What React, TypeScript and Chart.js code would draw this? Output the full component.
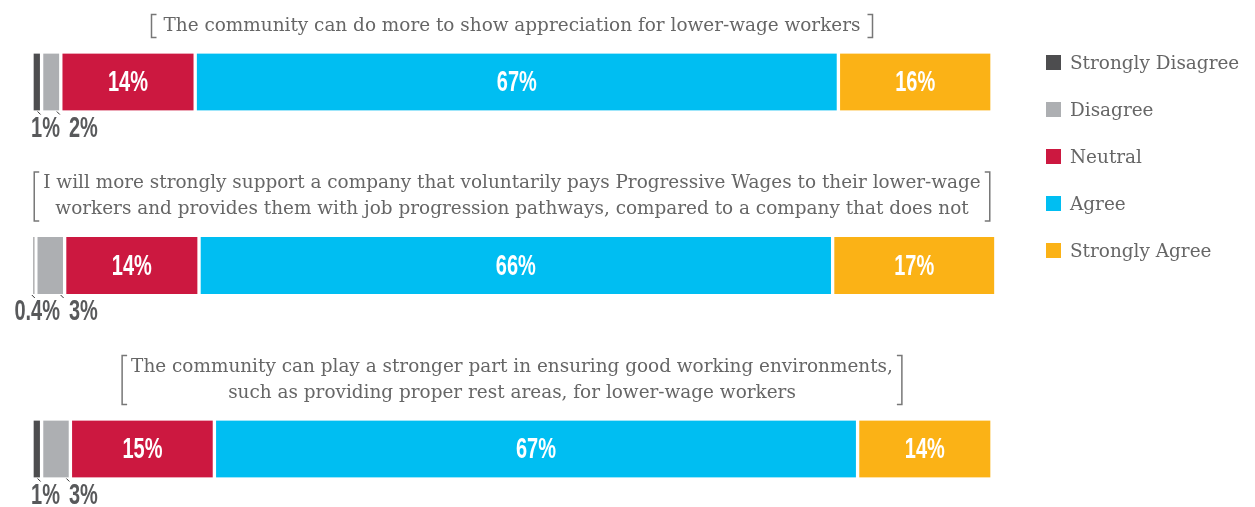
import React, { useEffect, useRef } from "react";
import { Chart, registerables } from "chart.js";

Chart.register(...registerables);

// ---- data ----
const statements: string[][] = [
  ["The community can do more to show appreciation for lower-wage workers"],
  [
    "I will more strongly support a company that voluntarily pays Progressive Wages to their lower-wage",
    "workers and provides them with job progression pathways, compared to a company that does not",
  ],
  [
    "The community can play a stronger part in ensuring good working environments,",
    "such as providing proper rest areas, for lower-wage workers",
  ],
];
const seriesNames = ["Strongly Disagree", "Disagree", "Neutral", "Agree", "Strongly Agree"];
const stronglyDisagree = [1, 0.4, 1];
const disagree = [2, 3, 3];
const neutral = [14, 14, 15];
const agree = [67, 66, 67];
const stronglyAgree = [16, 17, 14];
const seriesColors = ["#4d4d4f", "#adafb2", "#cc1840", "#00bef2", "#fbb216"];

// ---- style constants ----
const W = 1255;
const H = 507;
const TITLE_FONT = '18px "DejaVu Serif", serif';
const TITLE_COLOR = "#666666";
const TITLE1_TARGET_WIDTH = 697;
const LABEL_FONT = 'bold 30px "Liberation Sans Narrow", "Liberation Sans", sans-serif';
const LABEL_TARGET_WIDTH = 40; // width of "14%"

function fmt(v: number) {
  return v + "%";
}

function drawScaled(ctx: CanvasRenderingContext2D, text: string, x: number, y: number, align: CanvasTextAlign, sx: number) {
  ctx.save();
  ctx.translate(x, y);
  ctx.scale(sx, 1);
  ctx.textAlign = align;
  ctx.fillText(text, 0, 0);
  ctx.restore();
}

const decorPlugin = {
  id: "decor",
  afterDatasetsDraw(chart: any) {
    const ctx: CanvasRenderingContext2D = chart.ctx;
    const area = chart.chartArea;
    ctx.save();

    ctx.font = TITLE_FONT;
    const tsx = TITLE1_TARGET_WIDTH / ctx.measureText(statements[0][0]).width;
    ctx.font = LABEL_FONT;
    const lsx = LABEL_TARGET_WIDTH / ctx.measureText("14%").width;

    const cx = (area.left + area.right) / 2;
    const meta0 = chart.getDatasetMeta(0);

    // titles with brackets
    statements.forEach((lines, j) => {
      const el = meta0.data[j];
      const barTop = el.y - el.height / 2;
      const lineH = 26;
      const lastBase = barTop - 23;
      const firstBase = lastBase - (lines.length - 1) * lineH;
      ctx.font = TITLE_FONT;
      ctx.fillStyle = TITLE_COLOR;
      ctx.textBaseline = "alphabetic";
      let maxW = 0;
      lines.forEach((ln, k) => {
        const w = ctx.measureText(ln).width * tsx;
        if (w > maxW) maxW = w;
        drawScaled(ctx, ln, cx, firstBase + k * lineH, "center", tsx);
      });
      const pad = lines.length === 1 ? 12 : 9;
      const bl = cx - maxW / 2 - pad;
      const br = cx + maxW / 2 + pad;
      const bt = firstBase - 16;
      const bb = lastBase + 7;
      ctx.strokeStyle = "#777777";
      ctx.lineWidth = 1.5;
      ctx.beginPath();
      ctx.moveTo(bl + 5, bt);
      ctx.lineTo(bl, bt);
      ctx.lineTo(bl, bb);
      ctx.lineTo(bl + 5, bb);
      ctx.moveTo(br - 5, bt);
      ctx.lineTo(br, bt);
      ctx.lineTo(br, bb);
      ctx.lineTo(br - 5, bb);
      ctx.stroke();
    });

    // value labels
    ctx.font = LABEL_FONT;
    chart.data.datasets.forEach((ds: any, i: number) => {
      const meta = chart.getDatasetMeta(i);
      meta.data.forEach((el: any, j: number) => {
        const v = ds.data[j];
        const bottom = el.y + el.height / 2;
        if (v >= 5) {
          ctx.fillStyle = "#ffffff";
          ctx.textBaseline = "middle";
          drawScaled(ctx, fmt(v), (el.x + el.base) / 2, el.y + 1, "center", lsx);
        } else {
          ctx.strokeStyle = "#333333";
          ctx.lineWidth = 1;
          ctx.beginPath();
          ctx.moveTo(el.x - 4, bottom + 1);
          ctx.lineTo(el.x - 1, bottom + 4);
          ctx.stroke();
          ctx.fillStyle = "#58595b";
          ctx.textBaseline = "middle";
          if (i === 0) {
            drawScaled(ctx, fmt(v), area.left + 28, bottom + 18, "right", lsx);
          } else {
            drawScaled(ctx, fmt(v), area.left + 37, bottom + 18, "left", lsx);
          }
        }
      });
    });

    // legend
    ctx.font = TITLE_FONT;
    ctx.textBaseline = "middle";
    seriesNames.forEach((name, i) => {
      const yc = 63 + i * 47;
      ctx.fillStyle = seriesColors[i];
      ctx.fillRect(1046, yc - 8, 15, 15);
      ctx.fillStyle = TITLE_COLOR;
      drawScaled(ctx, name, 1070, yc + 1, "left", tsx);
    });

    ctx.restore();
  },
};

export default function App() {
  const ref = useRef<HTMLCanvasElement | null>(null);
  useEffect(() => {
    document.body.style.margin = "0";
    const canvas = ref.current;
    if (!canvas) return;
    const series = [stronglyDisagree, disagree, neutral, agree, stronglyAgree];
    const chart = new Chart(canvas, {
      type: "bar",
      data: {
        labels: statements.map((l) => l.join(" ")),
        datasets: series.map((d, i) => ({
          label: seriesNames[i],
          data: d,
          backgroundColor: seriesColors[i],
          borderColor: "#ffffff",
          borderWidth: { left: 2, right: 2, top: 0, bottom: 0 },
          borderSkipped: false,
          barThickness: 57,
          clip: false as any,
        })),
      },
      options: {
        indexAxis: "y",
        responsive: false,
        animation: false,
        devicePixelRatio: 1,
        layout: { padding: { left: 32, right: 263, top: 82, bottom: 58 } },
        scales: {
          x: { stacked: true, min: 0, max: 100, display: false },
          y: { stacked: true, display: false, offset: false },
        },
        plugins: { legend: { display: false }, tooltip: { enabled: false } },
      } as any,
      plugins: [decorPlugin],
    });
    return () => chart.destroy();
  }, []);
  return (
    <div style={{ width: W, height: H, background: "#ffffff" }}>
      <canvas ref={ref} width={W} height={H} style={{ width: W, height: H, display: "block" }} />
    </div>
  );
}
